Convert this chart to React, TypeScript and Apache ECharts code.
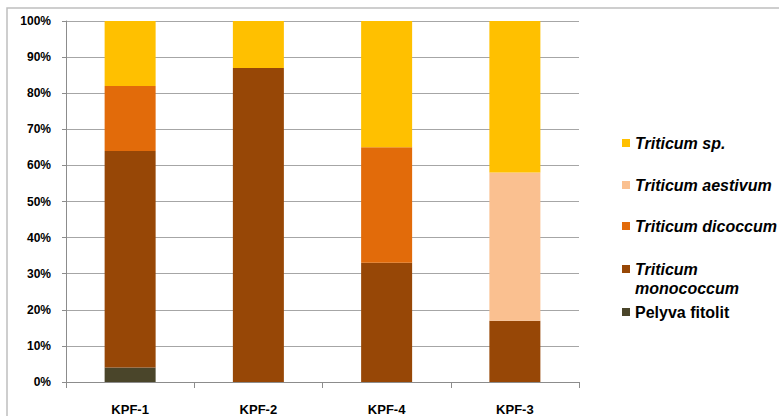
import React, { useEffect, useRef } from "react";
import * as echarts from "echarts";

const categories = ["KPF-1", "KPF-2", "KPF-4", "KPF-3"];
const seriesNames = [
  "Pelyva fitolit",
  "Triticum monococcum",
  "Triticum dicoccum",
  "Triticum aestivum",
  "Triticum sp.",
];
const pelyva = [4, 0, 0, 0];
const monococcum = [60, 87, 33, 17];
const dicoccum = [18, 0, 32, 0];
const aestivum = [0, 0, 0, 41];
const sp = [18, 13, 35, 42];
const colors = ["#4A452A", "#974706", "#E26B0A", "#FAC090", "#FFC000"];
const legendLabels = [
  "Pelyva fitolit",
  "Triticum\nmonococcum",
  "Triticum dicoccum",
  "Triticum aestivum",
  "Triticum sp.",
];

export default function App() {
  const ref = useRef<HTMLDivElement>(null);
  useEffect(() => {
    if (!ref.current) return;
    const chart = echarts.init(ref.current, null, { renderer: "svg" });
    const values = [pelyva, monococcum, dicoccum, aestivum, sp];
    const legendY = [312, 269, 226, 185, 143];
    const legendGraphics: any[] = [];
    seriesNames.forEach((n, i) => {
      legendGraphics.push({
        type: "rect",
        shape: { x: 622, y: legendY[i] - 4, width: 8, height: 8 },
        style: { fill: colors[i] },
      });
      legendGraphics.push({
        type: "text",
        x: 635,
        y: legendY[i] - 9.5,
        style: {
          text: legendLabels[i],
          fill: "#000",
          font:
            (i === 0 ? "" : "italic ") +
            "bold 16px 'Liberation Sans', Arial, sans-serif",
          lineHeight: 19,
          verticalAlign: "top",
          align: "left",
        },
      });
    });
    chart.setOption({
      animation: false,
      grid: { left: 66, right: 200, top: 21, bottom: 33 },
      xAxis: {
        type: "category",
        data: categories,
        axisLine: { lineStyle: { color: "#8C8C8C", width: 1 } },
        axisTick: { show: true, length: 6, lineStyle: { color: "#8C8C8C" } },
        axisLabel: {
          margin: 21,
          color: "#000",
          fontWeight: "bold",
          fontSize: 13,
          fontFamily: "'Liberation Sans', Arial, sans-serif",
        },
      },
      yAxis: {
        type: "value",
        min: 0,
        max: 100,
        interval: 10,
        axisLine: { show: true, lineStyle: { color: "#8C8C8C", width: 1 } },
        axisTick: { show: true, length: 4, lineStyle: { color: "#8C8C8C" } },
        splitLine: { lineStyle: { color: "#A6A6A6", width: 1 } },
        axisLabel: {
          formatter: "{value}%",
          margin: 15,
          color: "#000",
          fontWeight: "bold",
          fontSize: 12,
          fontFamily: "'Liberation Sans', Arial, sans-serif",
        },
      },
      series: seriesNames.map((n, i) => ({
        name: n,
        type: "bar",
        stack: "total",
        barWidth: 51,
        itemStyle: { color: colors[i] },
        data: values[i],
      })),
      graphic: [
        {
          type: "rect",
          shape: { x: 7, y: 8, width: 800, height: 420 },
          style: { fill: "none", stroke: "#BFBFBF", lineWidth: 1.5 },
          silent: true,
        },
        ...legendGraphics,
      ],
    });
    return () => chart.dispose();
  }, []);
  return <div ref={ref} style={{ width: 779, height: 416, position: "absolute", left: 0, top: 0 }} />;
}
